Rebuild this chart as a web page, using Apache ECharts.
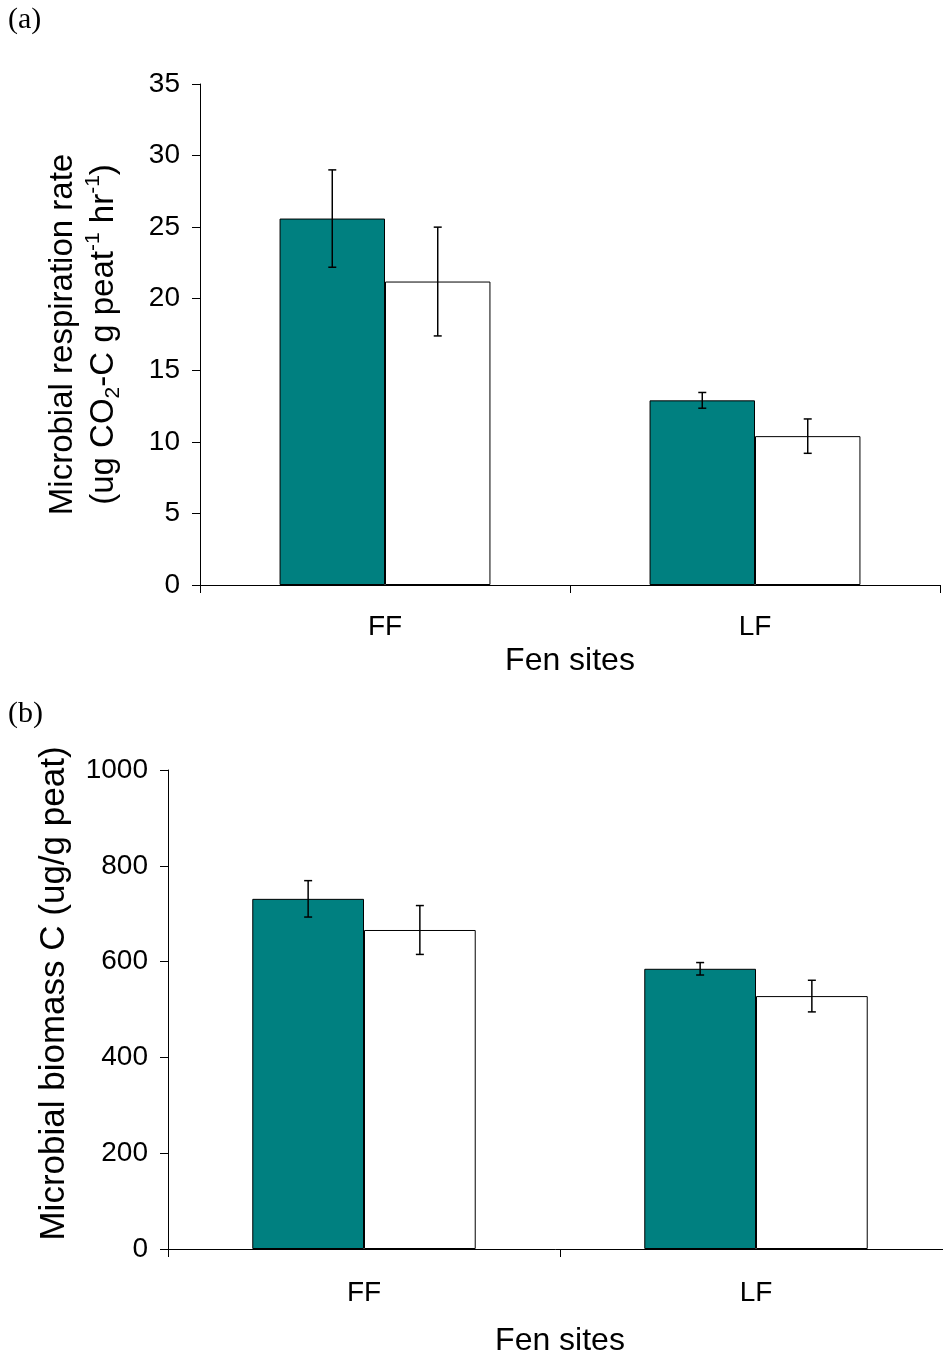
<!DOCTYPE html>
<html>
<head>
<meta charset="utf-8">
<script src="https://cdn.jsdelivr.net/npm/echarts@6/dist/echarts.min.js"></script>
<style>
html,body{margin:0;padding:0;background:#fff;}
#c{width:943px;height:1358px;}
</style>
</head>
<body>
<div id="c"></div>
<script>
// ---- Data ----
const categories = ['FF', 'LF'];
// Panel (a): microbial respiration rate
const respTeal = [25.6, 12.9];
const respTealErr = [3.4, 0.55];
const respWhite = [21.2, 10.4];
const respWhiteErr = [3.8, 1.2];
const respTicks = {min: 0, max: 35, interval: 5};
// Panel (b): microbial biomass C
const bioTeal = [731, 585];
const bioTealErr = [38, 13];
const bioWhite = [666, 528];
const bioWhiteErr = [51, 33];
const bioTicks = {min: 0, max: 1000, interval: 200};

const FONT = '"Liberation Sans", Arial, sans-serif';
const SERIF = '"Liberation Serif", "Times New Roman", serif';
const TEAL = '#008080';
const GAP = 0.43;

function errData(vals, errs) {
  return vals.map((v, i) => [i, v, errs[i]]);
}
function errSeries(xi, vals, errs, side) {
  return {
    type: 'custom',
    xAxisIndex: xi, yAxisIndex: xi,
    data: errData(vals, errs),
    encode: {x: 0, y: 1},
    z: 10,
    renderItem: function (params, api) {
      const cat = api.value(0), v = api.value(1), e = api.value(2);
      const band = api.size([1, 0])[0];
      const bw = band * (1 - GAP) / 2;
      const cx = api.coord([cat, v])[0] + side * bw / 2;
      const yT = api.coord([cat, v + e])[1];
      const yB = api.coord([cat, v - e])[1];
      const cap = 4;
      const st = {stroke: '#000', lineWidth: 1.5};
      return {
        type: 'group',
        children: [
          {type: 'line', shape: {x1: cx, y1: yT, x2: cx, y2: yB}, style: st},
          {type: 'line', shape: {x1: cx - cap, y1: yT, x2: cx + cap, y2: yT}, style: st},
          {type: 'line', shape: {x1: cx - cap, y1: yB, x2: cx + cap, y2: yB}, style: st}
        ]
      };
    }
  };
}

const axisLineStyle = {show: true, lineStyle: {color: '#000', width: 1}};
const tickStyle = {show: true, length: 8, inside: false, lineStyle: {color: '#000', width: 1}};

function xAxis(gi, margin, gap) {
  return {
    type: 'category', gridIndex: gi, data: categories,
    axisLine: axisLineStyle, axisTick: tickStyle,
    axisLabel: {color: '#000', fontSize: 28, fontFamily: FONT, margin: margin},
    name: 'Fen sites', nameLocation: 'middle', nameGap: gap,
    nameTextStyle: {color: '#000', fontSize: 32, fontFamily: FONT},
    splitLine: {show: false}
  };
}

const chart = echarts.init(document.getElementById('c'), null, {renderer: 'canvas'});
chart.setOption({
  animation: false,
  backgroundColor: '#fff',
  grid: [
    {left: 200, top: 84, width: 740, height: 501, outerBoundsMode: 'none', containLabel: false},
    {left: 168, top: 770, width: 784, height: 479, outerBoundsMode: 'none', containLabel: false}
  ],
  xAxis: [xAxis(0, 28, 60), xAxis(1, 30, 76)],
  yAxis: [
    {
      type: 'value', gridIndex: 0, min: respTicks.min, max: respTicks.max, interval: respTicks.interval,
      axisLine: axisLineStyle, axisTick: tickStyle, splitLine: {show: false},
      axisLabel: {color: '#000', fontSize: 28, fontFamily: FONT, margin: 20},
      name: '{a|Microbial respiration rate}\n{a|(ug CO}{sub|2}{a|-C g peat}{sup|-1}{a| hr}{sup|-1}{a|)}',
      nameLocation: 'middle', nameRotate: 90, nameGap: 76,
      nameTextStyle: {
        color: '#000', fontFamily: FONT, fontSize: 33, lineHeight: 41,
        rich: {
          a: {fontSize: 33, fontFamily: FONT, color: '#000', lineHeight: 41},
          sub: {fontSize: 21, fontFamily: FONT, color: '#000', verticalAlign: 'bottom', lineHeight: 20},
          sup: {fontSize: 21, fontFamily: FONT, color: '#000', verticalAlign: 'top', lineHeight: 20}
        }
      }
    },
    {
      type: 'value', gridIndex: 1, min: bioTicks.min, max: bioTicks.max, interval: bioTicks.interval,
      axisLine: axisLineStyle, axisTick: tickStyle, splitLine: {show: false},
      axisLabel: {color: '#000', fontSize: 28, fontFamily: FONT, margin: 20, formatter: function (v) { return String(v); }},
      name: 'Microbial biomass C (ug/g peat)',
      nameLocation: 'middle', nameRotate: 90, nameGap: 96,
      nameTextStyle: {color: '#000', fontFamily: FONT, fontSize: 35, padding: [0, 0, 0, 32]}
    }
  ],
  graphic: [
    {type: 'text', left: 8, top: 5, style: {text: '(a)', font: '30px ' + SERIF, fill: '#000'}},
    {type: 'text', left: 8, top: 699, style: {text: '(b)', font: '30px ' + SERIF, fill: '#000'}}
  ],
  series: [
    {type: 'bar', name: 'Teal', xAxisIndex: 0, yAxisIndex: 0, data: respTeal, barGap: '0%', barCategoryGap: '43%',
      itemStyle: {color: TEAL, borderColor: '#000', borderWidth: 1}},
    {type: 'bar', name: 'White', xAxisIndex: 0, yAxisIndex: 0, data: respWhite, barGap: '0%', barCategoryGap: '43%',
      itemStyle: {color: '#fff', borderColor: '#000', borderWidth: 1}},
    {type: 'bar', name: 'Teal', xAxisIndex: 1, yAxisIndex: 1, data: bioTeal, barGap: '0%', barCategoryGap: '43%',
      itemStyle: {color: TEAL, borderColor: '#000', borderWidth: 1}},
    {type: 'bar', name: 'White', xAxisIndex: 1, yAxisIndex: 1, data: bioWhite, barGap: '0%', barCategoryGap: '43%',
      itemStyle: {color: '#fff', borderColor: '#000', borderWidth: 1}},
    errSeries(0, respTeal, respTealErr, -1),
    errSeries(0, respWhite, respWhiteErr, 1),
    errSeries(1, bioTeal, bioTealErr, -1),
    errSeries(1, bioWhite, bioWhiteErr, 1)
  ]
});
</script>
</body>
</html>
